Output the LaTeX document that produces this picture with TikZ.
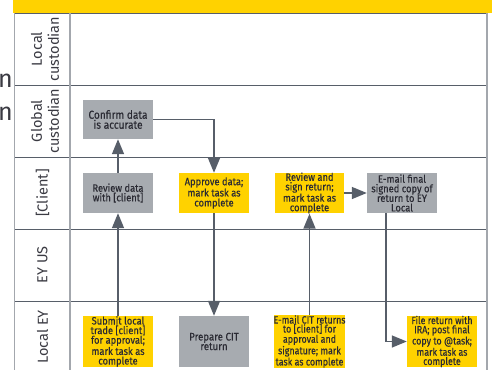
\documentclass[tikz,border=0pt]{standalone}
\usepackage{fontspec}
\setmainfont{Fira Sans}
\newfontfamily\boxfont[FakeStretch=0.88,FakeBold=0.3]{Fira Sans}
\newfontfamily\boxfontc[FakeStretch=0.84,FakeBold=0.3]{Fira Sans}
\usetikzlibrary{arrows.meta}
\definecolor{eyyellow}{HTML}{FFD200}
\definecolor{boxgray}{HTML}{A7ABB0}
\definecolor{linegray}{HTML}{575E69}
\definecolor{bordergray}{HTML}{A3A7AD}
\definecolor{txt}{HTML}{2A2A33}
\definecolor{lanetxt}{HTML}{3A3A42}
\begin{document}
\begin{tikzpicture}[x=1pt,y=-1pt,
 task/.style={minimum width=70pt, inner sep=0pt, align=center, font=\boxfont\fontsize{10.6}{9.6}\selectfont, text=txt},
 ybox/.style={task, fill=eyyellow},
 gbox/.style={task, fill=boxgray},
 flow/.style={draw=linegray, line width=1.5pt, -{Triangle[length=15pt,width=12pt]}},
 lane/.style={font=\fontsize{14.5}{17}\selectfont, text=lanetxt, rotate=90, align=center, inner sep=0pt},
 laneline/.style={draw=linegray, line width=1pt},
 border/.style={draw=bordergray, line width=1.5pt},
 frag/.style={font=\fontsize{25}{25}\selectfont, text=lanetxt, inner sep=0pt, anchor=base east},
]
\useasboundingbox (0,0) rectangle (492,370);
% top band
\fill[eyyellow] (13,0) rectangle (492,12.7);
% lane lines
\foreach \y in {13,85,157,229,301} {\draw[laneline] (14.5,\y) -- (486.7,\y);}
% borders
\draw[border] (14.5,13) -- (14.5,370);
\draw[border] (70,13) -- (70,370);
\draw[border, line width=2pt] (486.7,13) -- (486.7,370);
% cut-off text at left edge
\begin{scope}
\clip (0,0) rectangle (13.5,370);
\node[frag] (fragA) at (13,87) {an};
\node[frag] (fragB) at (13,120) {an};
\end{scope}
% lane labels
\node[lane] (lc) at (45,49) {Local\\custodian};
\node[lane] (gc) at (45,121) {Global\\custodian};
\node[lane] (cl) at (42.5,193) {[Client]};
\node[lane] (eyus) at (42.5,265) {EY US};
\node[lane] (ley) at (42.5,337) {Local EY};
% tasks
\node[gbox, minimum height=39pt, font=\boxfont\fontsize{11.5}{10}\selectfont] (confirm) at (118,119.5) {Confirm data\\is accurate};
\node[gbox, minimum height=40pt] (review) at (118,193) {Review data\\with [client]};
\node[ybox, minimum height=40pt, font=\boxfont\fontsize{10.6}{10}\selectfont] (approve) at (214,193) {Approve data;\\mark task as\\complete};
\node[ybox, minimum height=40pt, minimum width=69pt] (sign) at (309.5,193) {Review and\\sign return;\\mark task as\\complete};
\node[gbox, minimum height=40pt] (emailfinal) at (402,193) {E-mail final\\signed copy of\\return to EY\\Local};
\node[ybox, minimum height=51pt] (submit) at (118,341.5) {Submit local\\trade [client]\\for approval;\\mark task as\\complete};
\node[gbox, minimum height=51pt, font=\boxfont\fontsize{11}{9.6}\selectfont] (prepare) at (214,341.5) {Prepare CIT\\return};
\node[ybox, minimum height=51pt, minimum width=69pt, font=\boxfontc\fontsize{10.6}{9}\selectfont] (emailcit) at (309.5,341.5) {E-mail CIT returns\\to [client] for\\approval and\\signature; mark\\task as complete};
\node[ybox, minimum height=51pt, font=\boxfontc\fontsize{10.6}{9.2}\selectfont] (file) at (442,341.5) {File return with\\IRA; post final\\copy to @task;\\mark task as\\complete};
% connectors
\draw[flow] (review.north) -- (confirm.south);
\draw[flow] (confirm.east) -| (approve.north);
\draw[flow] (submit.north) -- (review.south);
\draw[flow] (approve.south) -- (prepare.north);
\draw[flow] (emailcit.north) -- (sign.south);
\draw[flow] (sign.east) -- (emailfinal.west);
\draw[flow] ([xshift=-16pt]emailfinal.south) |- (file.west);
\end{tikzpicture}
\end{document}
